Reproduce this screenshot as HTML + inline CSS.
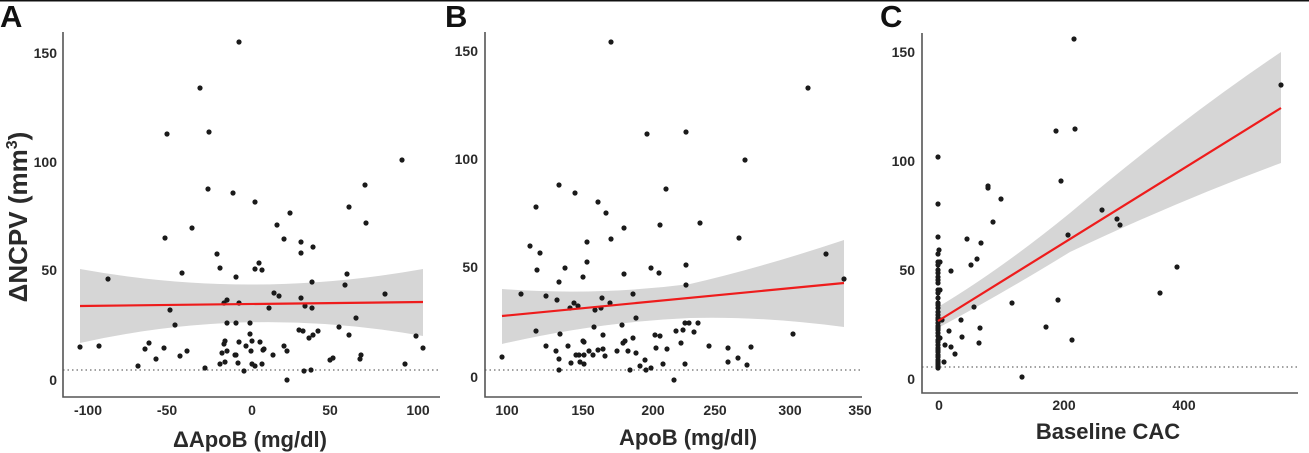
<!DOCTYPE html>
<html><head><meta charset="utf-8"><style>
html,body{margin:0;padding:0;background:#fff;}
svg{display:block;}
text{font-family:"Liberation Sans","DejaVu Sans",sans-serif;font-weight:bold;fill:#2a2a2a;}
.t{font-size:14px;}
.ax{stroke:#555;stroke-width:1.6;fill:none;}
.dot{stroke:#444;stroke-width:1;stroke-dasharray:1.5 3;}
.band{fill:#d6d6d6;}
.fit{stroke:#ee1c1c;stroke-width:2.2;fill:none;}
circle{fill:#1a1a1a;}
</style></head><body>
<svg width="1309" height="453" viewBox="0 0 1309 453" xmlns="http://www.w3.org/2000/svg">
<rect x="0" y="0" width="1309" height="1.5" fill="#111"/>
<!-- Panel A -->
<text x="0" y="27" style="font-size:31px;fill:#111">A</text>
<path class="band" d="M80,269 Q250,300 423,269 L423,336 Q250,305 80,343 Z"/>
<line class="dot" x1="63" y1="370" x2="440" y2="370"/>
<g>
<circle cx="239" cy="42" r="2.6"/><circle cx="200" cy="88" r="2.6"/><circle cx="167" cy="134" r="2.6"/><circle cx="209" cy="132" r="2.6"/><circle cx="208" cy="189" r="2.6"/><circle cx="233" cy="193" r="2.6"/><circle cx="255" cy="202" r="2.6"/><circle cx="290" cy="213" r="2.6"/><circle cx="192" cy="228" r="2.6"/><circle cx="165" cy="238" r="2.6"/><circle cx="277" cy="225" r="2.6"/><circle cx="284" cy="239" r="2.6"/><circle cx="301" cy="242" r="2.6"/><circle cx="313" cy="247" r="2.6"/><circle cx="217" cy="254" r="2.6"/><circle cx="301" cy="253" r="2.6"/><circle cx="220" cy="268" r="2.6"/><circle cx="255" cy="269" r="2.6"/><circle cx="259" cy="263" r="2.6"/><circle cx="262" cy="270" r="2.6"/><circle cx="236" cy="277" r="2.6"/><circle cx="182" cy="273" r="2.6"/><circle cx="108" cy="279" r="2.6"/><circle cx="365" cy="185" r="2.6"/><circle cx="349" cy="207" r="2.6"/><circle cx="366" cy="223" r="2.6"/><circle cx="402" cy="160" r="2.6"/><circle cx="347" cy="274" r="2.6"/><circle cx="345" cy="285" r="2.6"/><circle cx="312" cy="282" r="2.6"/><circle cx="385" cy="294" r="2.6"/><circle cx="274" cy="293" r="2.6"/><circle cx="279" cy="296" r="2.6"/><circle cx="301" cy="298" r="2.6"/><circle cx="227" cy="300" r="2.6"/><circle cx="224" cy="303" r="2.6"/><circle cx="239" cy="303" r="2.6"/><circle cx="170" cy="310" r="2.6"/><circle cx="269" cy="308" r="2.6"/><circle cx="305" cy="306" r="2.6"/><circle cx="312" cy="308" r="2.6"/><circle cx="175" cy="325" r="2.6"/><circle cx="227" cy="323" r="2.6"/><circle cx="236" cy="323" r="2.6"/><circle cx="250" cy="323" r="2.6"/><circle cx="356" cy="318" r="2.6"/><circle cx="299" cy="330" r="2.6"/><circle cx="303" cy="331" r="2.6"/><circle cx="313" cy="335" r="2.6"/><circle cx="309" cy="338" r="2.6"/><circle cx="318" cy="331" r="2.6"/><circle cx="339" cy="327" r="2.6"/><circle cx="349" cy="335" r="2.6"/><circle cx="416" cy="336" r="2.6"/><circle cx="250" cy="334" r="2.6"/><circle cx="252" cy="341" r="2.6"/><circle cx="239" cy="342" r="2.6"/><circle cx="225" cy="341" r="2.6"/><circle cx="224" cy="344" r="2.6"/><circle cx="260" cy="342" r="2.6"/><circle cx="246" cy="346" r="2.6"/><circle cx="284" cy="346" r="2.6"/><circle cx="287" cy="351" r="2.6"/><circle cx="264" cy="349" r="2.6"/><circle cx="263" cy="350" r="2.6"/><circle cx="251" cy="351" r="2.6"/><circle cx="227" cy="351" r="2.6"/><circle cx="222" cy="353" r="2.6"/><circle cx="235" cy="355" r="2.6"/><circle cx="236" cy="355" r="2.6"/><circle cx="273" cy="355" r="2.6"/><circle cx="80" cy="347" r="2.6"/><circle cx="99" cy="346" r="2.6"/><circle cx="149" cy="343" r="2.6"/><circle cx="145" cy="349" r="2.6"/><circle cx="164" cy="348" r="2.6"/><circle cx="187" cy="351" r="2.6"/><circle cx="180" cy="356" r="2.6"/><circle cx="156" cy="359" r="2.6"/><circle cx="361" cy="355" r="2.6"/><circle cx="360" cy="359" r="2.6"/><circle cx="333" cy="358" r="2.6"/><circle cx="330" cy="360" r="2.6"/><circle cx="423" cy="348" r="2.6"/><circle cx="405" cy="364" r="2.6"/><circle cx="225" cy="362" r="2.6"/><circle cx="220" cy="364" r="2.6"/><circle cx="238" cy="363" r="2.6"/><circle cx="252" cy="364" r="2.6"/><circle cx="255" cy="366" r="2.6"/><circle cx="262" cy="364" r="2.6"/><circle cx="138" cy="366" r="2.6"/><circle cx="205" cy="368" r="2.6"/><circle cx="244" cy="371" r="2.6"/><circle cx="304" cy="371" r="2.6"/><circle cx="311" cy="370" r="2.6"/><circle cx="287" cy="380" r="2.6"/>
</g>
<line class="fit" x1="80" y1="306" x2="423" y2="302"/>
<path class="ax" d="M63,32 L63,397 L440,397"/>
<g class="t" text-anchor="end">
<text x="57" y="58">150</text><text x="57" y="167">100</text><text x="57" y="275">50</text><text x="57" y="385">0</text>
</g>
<g class="t" text-anchor="middle">
<text x="88" y="415">-100</text><text x="167" y="415">-50</text><text x="252" y="415">0</text><text x="330" y="415">50</text><text x="418" y="415">100</text>
</g>
<text x="250" y="447" text-anchor="middle" style="font-size:22px">ΔApoB (mg/dl)</text>
<text transform="translate(27,217) rotate(-90)" text-anchor="middle" style="font-size:26px">ΔNCPV (mm<tspan dy="-10" style="font-size:16px">3</tspan><tspan dy="10">)</tspan></text>

<!-- Panel B -->
<text x="445" y="27" style="font-size:31px;fill:#111">B</text>
<path class="band" d="M502,289 Q597,296 690,284 Q760,268 844,240 L844,327 Q760,316 690,318 Q597,322 502,344 Z"/>
<line class="dot" x1="485" y1="370" x2="862" y2="370"/>
<g>
<circle cx="611" cy="42" r="2.6"/><circle cx="808" cy="88" r="2.6"/><circle cx="647" cy="134" r="2.6"/><circle cx="686" cy="132" r="2.6"/><circle cx="745" cy="160" r="2.6"/><circle cx="559" cy="185" r="2.6"/><circle cx="666" cy="189" r="2.6"/><circle cx="575" cy="193" r="2.6"/><circle cx="598" cy="202" r="2.6"/><circle cx="536" cy="207" r="2.6"/><circle cx="606" cy="213" r="2.6"/><circle cx="624" cy="228" r="2.6"/><circle cx="660" cy="225" r="2.6"/><circle cx="700" cy="223" r="2.6"/><circle cx="611" cy="239" r="2.6"/><circle cx="739" cy="238" r="2.6"/><circle cx="587" cy="242" r="2.6"/><circle cx="530" cy="246" r="2.6"/><circle cx="540" cy="253" r="2.6"/><circle cx="826" cy="254" r="2.6"/><circle cx="587" cy="262" r="2.6"/><circle cx="686" cy="265" r="2.6"/><circle cx="565" cy="268" r="2.6"/><circle cx="537" cy="270" r="2.6"/><circle cx="651" cy="268" r="2.6"/><circle cx="659" cy="273" r="2.6"/><circle cx="624" cy="274" r="2.6"/><circle cx="583" cy="277" r="2.6"/><circle cx="559" cy="282" r="2.6"/><circle cx="844" cy="279" r="2.6"/><circle cx="686" cy="285" r="2.6"/><circle cx="521" cy="294" r="2.6"/><circle cx="546" cy="296" r="2.6"/><circle cx="633" cy="294" r="2.6"/><circle cx="602" cy="298" r="2.6"/><circle cx="557" cy="300" r="2.6"/><circle cx="574" cy="303" r="2.6"/><circle cx="610" cy="303" r="2.6"/><circle cx="578" cy="306" r="2.6"/><circle cx="570" cy="308" r="2.6"/><circle cx="601" cy="308" r="2.6"/><circle cx="595" cy="310" r="2.6"/><circle cx="636" cy="318" r="2.6"/><circle cx="685" cy="323" r="2.6"/><circle cx="689" cy="323" r="2.6"/><circle cx="698" cy="323" r="2.6"/><circle cx="622" cy="325" r="2.6"/><circle cx="594" cy="327" r="2.6"/><circle cx="536" cy="331" r="2.6"/><circle cx="676" cy="331" r="2.6"/><circle cx="683" cy="330" r="2.6"/><circle cx="694" cy="332" r="2.6"/><circle cx="560" cy="334" r="2.6"/><circle cx="655" cy="335" r="2.6"/><circle cx="660" cy="336" r="2.6"/><circle cx="793" cy="334" r="2.6"/><circle cx="603" cy="335" r="2.6"/><circle cx="633" cy="338" r="2.6"/><circle cx="625" cy="341" r="2.6"/><circle cx="623" cy="343" r="2.6"/><circle cx="583" cy="341" r="2.6"/><circle cx="584" cy="342" r="2.6"/><circle cx="681" cy="343" r="2.6"/><circle cx="546" cy="346" r="2.6"/><circle cx="568" cy="346" r="2.6"/><circle cx="709" cy="346" r="2.6"/><circle cx="728" cy="348" r="2.6"/><circle cx="751" cy="347" r="2.6"/><circle cx="656" cy="348" r="2.6"/><circle cx="667" cy="349" r="2.6"/><circle cx="603" cy="349" r="2.6"/><circle cx="556" cy="351" r="2.6"/><circle cx="589" cy="351" r="2.6"/><circle cx="598" cy="350" r="2.6"/><circle cx="617" cy="351" r="2.6"/><circle cx="628" cy="351" r="2.6"/><circle cx="636" cy="353" r="2.6"/><circle cx="576" cy="355" r="2.6"/><circle cx="579" cy="355" r="2.6"/><circle cx="584" cy="355" r="2.6"/><circle cx="593" cy="355" r="2.6"/><circle cx="605" cy="356" r="2.6"/><circle cx="502" cy="357" r="2.6"/><circle cx="559" cy="359" r="2.6"/><circle cx="738" cy="358" r="2.6"/><circle cx="645" cy="360" r="2.6"/><circle cx="728" cy="362" r="2.6"/><circle cx="571" cy="363" r="2.6"/><circle cx="580" cy="362" r="2.6"/><circle cx="584" cy="364" r="2.6"/><circle cx="663" cy="364" r="2.6"/><circle cx="685" cy="364" r="2.6"/><circle cx="747" cy="365" r="2.6"/><circle cx="640" cy="366" r="2.6"/><circle cx="651" cy="368" r="2.6"/><circle cx="559" cy="370" r="2.6"/><circle cx="630" cy="370" r="2.6"/><circle cx="646" cy="370" r="2.6"/><circle cx="674" cy="380" r="2.6"/>
</g>
<line class="fit" x1="502" y1="316" x2="844" y2="283"/>
<path class="ax" d="M485,32 L485,397 L862,397"/>
<g class="t" text-anchor="end">
<text x="478" y="56">150</text><text x="478" y="164">100</text><text x="478" y="272">50</text><text x="478" y="382">0</text>
</g>
<g class="t" text-anchor="middle">
<text x="507" y="415">100</text><text x="583" y="415">150</text><text x="653" y="415">200</text><text x="715" y="415">250</text><text x="790" y="415">300</text><text x="860" y="415">350</text>
</g>
<text x="688" y="445" text-anchor="middle" style="font-size:22px">ApoB (mg/dl)</text>

<!-- Panel C -->
<text x="880" y="27" style="font-size:31px;fill:#111">C</text>
<path class="band" d="M938,307 Q1000,270 1070,213 Q1180,120 1281,52 L1281,163 Q1180,200 1070,252 Q1000,295 938,328 Z"/>
<line class="dot" x1="922" y1="367" x2="1298" y2="367"/>
<g>
<circle cx="1074" cy="39" r="2.6"/><circle cx="1281" cy="85" r="2.6"/><circle cx="1056" cy="131" r="2.6"/><circle cx="1075" cy="129" r="2.6"/><circle cx="938" cy="157" r="2.6"/><circle cx="1061" cy="181" r="2.6"/><circle cx="988" cy="188" r="2.6"/><circle cx="988" cy="186" r="2.6"/><circle cx="1001" cy="199" r="2.6"/><circle cx="938" cy="204" r="2.6"/><circle cx="1102" cy="210" r="2.6"/><circle cx="1117" cy="219" r="2.6"/><circle cx="1120" cy="225" r="2.6"/><circle cx="993" cy="222" r="2.6"/><circle cx="1068" cy="235" r="2.6"/><circle cx="938" cy="237" r="2.6"/><circle cx="967" cy="239" r="2.6"/><circle cx="981" cy="243" r="2.6"/><circle cx="939" cy="250" r="2.6"/><circle cx="977" cy="259" r="2.6"/><circle cx="971" cy="265" r="2.6"/><circle cx="1177" cy="267" r="2.6"/><circle cx="951" cy="271" r="2.6"/><circle cx="1160" cy="293" r="2.6"/><circle cx="1058" cy="300" r="2.6"/><circle cx="1012" cy="303" r="2.6"/><circle cx="974" cy="307" r="2.6"/><circle cx="961" cy="320" r="2.6"/><circle cx="942" cy="320" r="2.6"/><circle cx="980" cy="328" r="2.6"/><circle cx="1046" cy="327" r="2.6"/><circle cx="949" cy="331" r="2.6"/><circle cx="962" cy="337" r="2.6"/><circle cx="1072" cy="340" r="2.6"/><circle cx="979" cy="343" r="2.6"/><circle cx="945" cy="345" r="2.6"/><circle cx="951" cy="347" r="2.6"/><circle cx="955" cy="354" r="2.6"/><circle cx="944" cy="362" r="2.6"/><circle cx="1022" cy="377" r="2.6"/>
<circle cx="938" cy="254" r="2.6"/><circle cx="938" cy="262" r="2.6"/><circle cx="940" cy="262" r="2.6"/><circle cx="938" cy="265" r="2.6"/><circle cx="938" cy="270" r="2.6"/><circle cx="938" cy="273" r="2.6"/><circle cx="938" cy="277" r="2.6"/><circle cx="938" cy="280" r="2.6"/><circle cx="938" cy="283" r="2.6"/><circle cx="938" cy="290" r="2.6"/><circle cx="940" cy="290" r="2.6"/><circle cx="938" cy="293" r="2.6"/><circle cx="938" cy="298" r="2.6"/><circle cx="938" cy="303" r="2.6"/><circle cx="938" cy="305" r="2.6"/><circle cx="938" cy="308" r="2.6"/><circle cx="938" cy="312" r="2.6"/><circle cx="938" cy="315" r="2.6"/><circle cx="938" cy="318" r="2.6"/><circle cx="938" cy="320" r="2.6"/><circle cx="938" cy="323" r="2.6"/><circle cx="938" cy="326" r="2.6"/><circle cx="938" cy="328" r="2.6"/><circle cx="938" cy="330" r="2.6"/><circle cx="938" cy="333" r="2.6"/><circle cx="938" cy="336" r="2.6"/><circle cx="940" cy="338" r="2.6"/><circle cx="938" cy="340" r="2.6"/><circle cx="938" cy="342" r="2.6"/><circle cx="938" cy="345" r="2.6"/><circle cx="938" cy="348" r="2.6"/><circle cx="938" cy="350" r="2.6"/><circle cx="938" cy="352" r="2.6"/><circle cx="938" cy="355" r="2.6"/><circle cx="938" cy="357" r="2.6"/><circle cx="938" cy="360" r="2.6"/><circle cx="938" cy="362" r="2.6"/><circle cx="938" cy="364" r="2.6"/><circle cx="938" cy="366" r="2.6"/><circle cx="938" cy="368" r="2.6"/>
</g>
<line class="fit" x1="938" y1="321" x2="1281" y2="108"/>
<path class="ax" d="M922,33 L922,393 L1298,393"/>
<g class="t" text-anchor="end">
<text x="915" y="57">150</text><text x="915" y="166">100</text><text x="915" y="275">50</text><text x="915" y="384">0</text>
</g>
<g class="t" text-anchor="middle">
<text x="939" y="410">0</text><text x="1064" y="410">200</text><text x="1184" y="410">400</text>
</g>
<text x="1108" y="439" text-anchor="middle" style="font-size:22px">Baseline CAC</text>
</svg>
</body></html>
